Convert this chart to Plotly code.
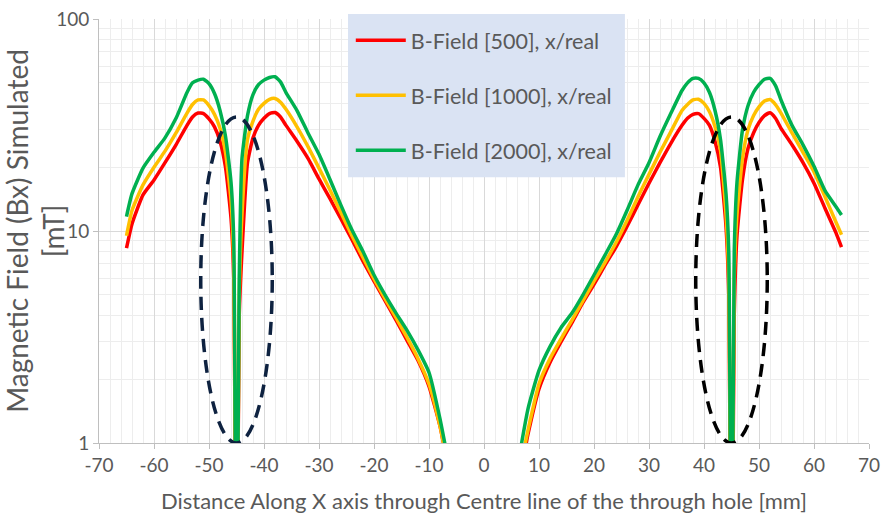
import plotly.graph_objects as go

# ---- data ----
x_left = [-65, -64, -62, -60, -58, -56, -54, -53, -52, -51, -50, -49, -48, -47, -46, -45.5, -45,
          -44.5, -44, -43, -42, -41, -40, -39, -38, -37, -36, -34, -32, -30, -28, -26, -24, -22,
          -20, -18, -16, -14, -12, -10, -8, -6]
x_right = [6, 8, 10, 12, 14, 16, 18, 20, 22, 24, 26, 28, 30, 32, 34, 36, 37, 38, 39, 40, 41, 42,
           43, 44, 44.5, 45, 45.5, 46, 47, 48, 49, 50, 51, 52, 53, 54, 56, 58, 60, 62, 64, 65]

red_left = [8.3, 10.8, 14.8, 17.4, 21.0, 25.5, 31.5, 34.5, 36.0, 35.8, 33.8, 31.0, 26.5, 20.0, 11.5, 6.0, 0.1,
            4.0, 8.0, 21.0, 27.5, 31.5, 34.0, 35.8, 36.2, 34.5, 31.5, 26.5, 22.0, 17.6, 14.2, 11.4, 9.1, 7.2,
            5.8, 4.7, 3.8, 3.05, 2.45, 1.85, 1.2, 0.65]
yellow_left = [9.5, 12.5, 16.5, 20.0, 23.8, 29.0, 36.0, 39.5, 41.5, 41.5, 39.0, 35.5, 30.5, 23.5, 14.0, 7.0, 0.1,
               5.0, 12.0, 27.0, 33.0, 37.5, 40.0, 41.8, 42.2, 40.5, 37.5, 31.0, 25.0, 19.8, 15.6, 12.2, 9.5, 7.5,
               5.95, 4.8, 3.9, 3.15, 2.5, 1.9, 1.2, 0.65]
green_left = [11.7, 15.0, 19.8, 23.5, 27.5, 34.0, 45.0, 50.0, 51.5, 52.0, 49.5, 44.5, 37.0, 28.0, 17.0, 9.0, 0.1,
              6.0, 22.0, 35.0, 44.0, 49.0, 51.5, 53.0, 53.4, 50.5, 45.0, 37.0, 29.0, 23.0, 17.5, 13.2, 10.1, 8.0,
              6.2, 5.0, 4.1, 3.4, 2.75, 2.15, 1.3, 0.7]

red_right = [0.6, 1.1, 1.8, 2.4, 3.0, 3.7, 4.6, 5.6, 6.9, 8.4, 10.5, 13.3, 16.8, 21.0, 26.0, 31.5, 34.0, 35.5,
             35.8, 34.0, 31.5, 26.5, 20.0, 10.5, 5.0, 0.1, 4.0, 9.5, 17.5, 24.5, 29.0, 32.5, 35.0, 36.1, 34.0,
             30.5, 25.5, 21.0, 16.8, 12.8, 9.8, 8.4]
yellow_right = [0.65, 1.15, 1.9, 2.5, 3.1, 3.8, 4.7, 5.8, 7.1, 8.8, 11.2, 14.5, 18.5, 23.5, 29.5, 37.0, 39.5, 41.5,
                41.8, 40.0, 36.5, 31.0, 24.0, 12.0, 6.0, 0.1, 6.0, 12.0, 22.0, 30.0, 35.0, 38.5, 41.0, 41.7, 39.5,
                36.0, 29.0, 23.5, 19.0, 14.5, 11.0, 9.6]
green_right = [0.75, 1.45, 2.2, 2.85, 3.5, 4.1, 5.0, 6.2, 7.7, 9.6, 12.5, 16.5, 21.0, 27.9, 36.0, 46.0, 50.0, 52.5,
               52.5, 50.0, 45.0, 37.0, 27.0, 15.0, 8.0, 0.1, 8.0, 17.0, 30.0, 39.0, 45.0, 49.0, 52.0, 52.5, 48.5,
               41.5, 31.5, 25.5, 20.2, 15.5, 13.0, 11.9]

series_names = ["B-Field [500], x/real", "B-Field [1000], x/real", "B-Field [2000], x/real"]
series_colors = ["#FF0000", "#FFC000", "#00B050"]
series_left = [red_left, yellow_left, green_left]
series_right = [red_right, yellow_right, green_right]

x_ticks = list(range(-70, 71, 10))
x_ticktext = [str(v) for v in x_ticks]  # plain hyphen minus
y_ticks = [1, 10, 100]
y_minor = [2, 3, 4, 5, 6, 7, 8, 9, 20, 30, 40, 50, 60, 70, 80, 90]

# highlighted dip regions (ellipse bounds in data units)
ellipses = [(-51.5, -38.5, 1.0, 34.5, "#0E2240"), (38.5, 51.5, 1.0, 34.5, "#000000")]

FONT = "Lato"
GREY = "#595959"
LEGEND_BG = "#DAE3F3"

fig = go.Figure()
for name, col, yl, yr in zip(series_names, series_colors, series_left, series_right):
    fig.add_trace(go.Scatter(
        x=x_left + [None] + x_right,
        y=yl + [None] + yr,
        mode="lines", name=name, legendgroup=name,
        line=dict(color=col, width=3.5, shape="spline", smoothing=0.5),
        connectgaps=False,
    ))

for x0, x1, y0, y1, c in ellipses:
    fig.add_shape(type="circle", xref="x", yref="y", x0=x0, x1=x1, y0=y0, y1=y1,
                  line=dict(color=c, width=3.5, dash="13px,8px"), layer="above")

# legend box background (paper coordinates)
fig.add_shape(type="rect", xref="paper", yref="paper", x0=0.3234, x1=0.683, y0=0.627, y1=1.0118,
              fillcolor=LEGEND_BG, line=dict(width=0), layer="above")

fig.update_layout(
    width=886, height=523,
    margin=dict(l=99, r=17, t=19, b=80, autoexpand=False),
    paper_bgcolor="white", plot_bgcolor="white",
    font=dict(family=FONT, color=GREY),
    showlegend=True,
    legend=dict(x=0.327, y=0.998, xanchor="left", yanchor="top",
                bgcolor="rgba(0,0,0,0)", font=dict(size=21.5, color=GREY, family=FONT),
                tracegroupgap=24, traceorder="grouped", itemwidth=50),
    xaxis=dict(range=[-70, 70], tickvals=x_ticks, ticktext=x_ticktext, ticks="outside", ticklen=5,
               tickcolor="#BFBFBF", showline=True, linecolor="#BFBFBF", linewidth=1,
               showgrid=True, gridcolor="#D9D9D9", gridwidth=1, zeroline=False, automargin=False,
               minor=dict(dtick=2, tick0=0, showgrid=True, gridcolor="#EDEDED", ticks=""),
               tickfont=dict(size=19, color=GREY),
               title=dict(text="Distance Along X axis through Centre line of the through hole [mm]",
                          font=dict(size=22, color=GREY), standoff=18)),
    yaxis=dict(type="log", range=[0, 2], tickvals=y_ticks, ticktext=[str(v) for v in y_ticks],
               ticks="outside", ticklen=5, tickcolor="#BFBFBF", showline=True, linecolor="#BFBFBF",
               showgrid=True, gridcolor="#D9D9D9", gridwidth=1, zeroline=False, automargin=False,
               minor=dict(tickvals=y_minor, showgrid=True, gridcolor="#EDEDED", ticks=""),
               tickfont=dict(size=19, color=GREY),
               title=dict(text="Magnetic Field (Bx) Simulated<br>[mT]",
                          font=dict(size=28, color=GREY), standoff=4)),
)

fig.write_html("out.html")
